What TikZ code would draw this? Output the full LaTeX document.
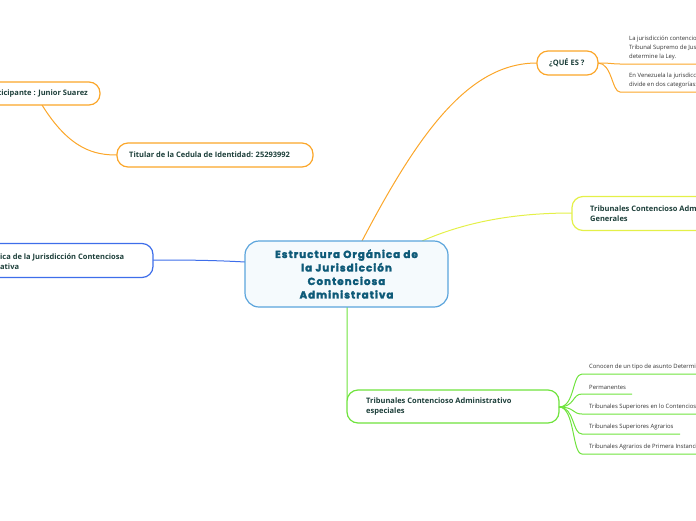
\documentclass[tikz,border=0pt]{standalone}
\usepackage{fontspec}
\setmainfont{Open Sans}
\newfontfamily\titlefont[LetterSpace=10,FakeBold=2.5]{Poppins}
\begin{document}
\begin{tikzpicture}[x=1pt,y=-1pt,
  box/.style={draw,line width=1.2pt,rounded corners=11pt,fill=white},
  lbl/.style={font=\fontsize{7.5}{10}\selectfont\bfseries,text=txt,align=left,anchor=west,inner sep=0},
  leaf/.style={font=\fontsize{5.9}{9}\selectfont,text=black!80,align=left,anchor=west,inner sep=0},
  con/.style={line width=1pt}]
\definecolor{txt}{HTML}{1D3F3A}
\definecolor{org}{HTML}{FBA629}
\definecolor{ylw}{HTML}{E4F048}
\definecolor{grn}{HTML}{6FE33D}
\definecolor{blu}{HTML}{3E6EEA}
\definecolor{cblu}{HTML}{5BA4DC}
\definecolor{ttl}{HTML}{0E5A78}
\useasboundingbox (0,0) rectangle (696,520);
\begin{scope}
\clip (0,0) rectangle (696,520);
% connectors
\coordinate (ctop) at (362,241);
\coordinate (cyl) at (422,241);
\coordinate (cbot) at (347,307);
\coordinate (clft) at (245,262);
\draw[con,org] (ctop) .. controls (420,130) and (470,63) .. (537,63);
\draw[con,ylw] (cyl) .. controls (470,220) and (520,213) .. (572,213);
\draw[con,grn] (cbot) -- (347,395) .. controls (347,405) and (350,407) .. (357,407);
\draw[con,blu] (clft) .. controls (210,260) and (180,260) .. (153,260);
\draw[con,org] (42,105) .. controls (70,150) and (95,155) .. (117,155);
% central
\node[draw=cblu,line width=1.2pt,rounded corners=14pt,fill=cblu!6,minimum width=203pt,minimum height=66pt,align=center,
  font=\titlefont\fontsize{10.3}{13.5}\selectfont\bfseries,text=ttl] (c) at (346.5,274)
  {Estructura Orgánica de\\la Jurisdicción\\Contenciosa\\Administrativa};
% que es
\node[box,draw=org,minimum width=61pt,minimum height=24pt] (q) at (567.5,63) {};
\node[lbl] at (549,63) {¿QUÉ ES ?};
\draw[con,org] (598,63) .. controls (612,63) and (612,64) .. (620,64) -- (696,64);
\draw[con,org] (598,63) .. controls (612,63) and (612,92) .. (620,92) -- (696,92);
\node[leaf] at (629,48) {La jurisdicción contenciosa administrativa corresponde al\\Tribunal Supremo de Justicia y demás Tribunales que\\determine la Ley.};
\node[leaf] at (629,80.5) {En Venezuela la jurisdicción contenciosa administrativa se\\divide en dos categorías:};
% generales
\node[box,draw=ylw,minimum width=140pt,minimum height=34pt] (g) at (642,213.5) {};
\node[lbl] at (590,213.5) {Tribunales Contencioso Administrativo\\Generales};
% especiales
\node[box,draw=grn,minimum width=212pt,minimum height=33pt] (e) at (453,406.5) {};
\node[lbl] at (366,406.5) {Tribunales Contencioso Administrativo\\especiales};
\foreach \y/\w/\t in {374/696/{Conocen de un tipo de asunto Determinado},
  394/632/{Permanentes},
  414/696/{Tribunales Superiores en lo Contencioso Administrativo},
  434/680/{Tribunales Superiores Agrarios},
  454/696/{Tribunales Agrarios de Primera Instancia}}{
  \draw[con,grn] (559,407) .. controls (575,407) and (572,\y) .. (582,\y) -- (\w,\y);
  \node[leaf] at (589,\y-7) {\t};
}
% participante
\node[box,draw=org,minimum width=140pt,minimum height=23pt] (p) at (30,93.5) {};
\node[lbl,anchor=east] at (88,93.5) {Participante : Junior Suarez};
\node[box,draw=org,minimum width=196pt,minimum height=24pt] (t) at (215,155) {};
\node[lbl] at (129,155) {Titular de la Cedula de Identidad: 25293992};
% blue
\node[box,draw=blu,minimum width=200pt,minimum height=34pt] (b) at (53,260.5) {};
\node[lbl,anchor=north west] at (0,253.5) {ica de la Jurisdicción Contenciosa\\ativa};
\end{scope}
\end{tikzpicture}
\end{document}
